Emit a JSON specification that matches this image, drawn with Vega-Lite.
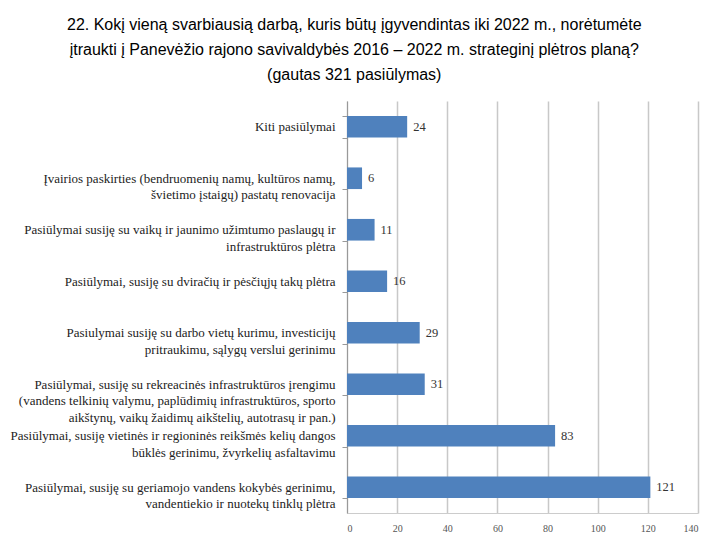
{
  "$schema": "https://vega.github.io/schema/vega-lite/v6.json",
  "width": 351,
  "height": 412,
  "padding": {"left": 10, "top": 17, "right": 4, "bottom": 5},
  "background": "white",
  "title": {
    "text": ["22. Kokį vieną svarbiausią darbą, kuris būtų įgyvendintas iki 2022 m., norėtumėte", "įtraukti į Panevėžio rajono savivaldybės 2016 – 2022 m. strateginį plėtros planą?", "(gautas 321 pasiūlymas)"],
    "font": "Liberation Sans",
    "fontSize": 16,
    "fontWeight": "normal",
    "color": "#000000",
    "anchor": "middle",
    "frame": "bounds",
    "lineHeight": 25,
    "offset": 12
  },
  "config": {
    "view": {"stroke": null}
  },
  "data": {
    "values": [
      {"category": "Kiti pasiūlymai", "value": 24},
      {"category": "Įvairios paskirties (bendruomenių namų, kultūros namų,|švietimo įstaigų)  pastatų renovacija", "value": 6},
      {"category": "Pasiūlymai susiję su vaikų ir jaunimo užimtumo paslaugų ir|infrastruktūros plėtra", "value": 11},
      {"category": "Pasiūlymai, susiję su dviračių ir pėsčiųjų takų plėtra", "value": 16},
      {"category": "Pasiulymai susiję su darbo vietų kurimu, investicijų|pritraukimu, sąlygų verslui gerinimu", "value": 29},
      {"category": "Pasiūlymai, susiję su rekreacinės infrastruktūros įrengimu|(vandens telkinių valymu, paplūdimių infrastruktūros, sporto|aikštynų, vaikų žaidimų aikštelių, autotrasų ir pan.)", "value": 31},
      {"category": "Pasiūlymai, susiję vietinės ir regioninės reikšmės kelių dangos|būklės gerinimu, žvyrkelių asfaltavimu", "value": 83},
      {"category": "Pasiūlymai, susiję su geriamojo vandens kokybės gerinimu,|vandentiekio ir nuotekų tinklų plėtra", "value": 121}
    ]
  },
  "encoding": {
    "y": {
      "field": "category",
      "type": "nominal",
      "sort": null,
      "scale": {"paddingInner": 0.58, "paddingOuter": 0.29},
      "axis": {
        "title": null,
        "labelExpr": "split(datum.label, '|')",
        "labelFont": "Liberation Serif",
        "labelFontSize": 13,
        "labelColor": "#222222",
        "labelLimit": 400,
        "labelPadding": 7,
        "labelLineHeight": 16.5,
        "tickBand": "extent",
        "tickSize": 5,
        "tickColor": "#999999",
        "domainColor": "#999999",
        "grid": false
      }
    },
    "x": {
      "field": "value",
      "type": "quantitative",
      "scale": {"domain": [0, 140], "nice": false},
      "axis": {
        "title": null,
        "values": [0, 20, 40, 60, 80, 100, 120, 140],
        "labelFont": "Liberation Serif",
        "labelFontSize": 10,
        "labelColor": "#555555",
        "gridColor": "#c8c8c8",
        "gridWidth": 1.5,
        "domainColor": "#cccccc",
        "tickSize": 0,
        "labelPadding": 10
      }
    }
  },
  "layer": [
    {"mark": {"type": "bar", "color": "#4F81BD"}},
    {
      "mark": {"type": "text", "align": "left", "dx": 6, "font": "Liberation Serif", "fontSize": 12.5, "color": "#333333"},
      "encoding": {"text": {"field": "value", "type": "quantitative"}}
    }
  ]
}
